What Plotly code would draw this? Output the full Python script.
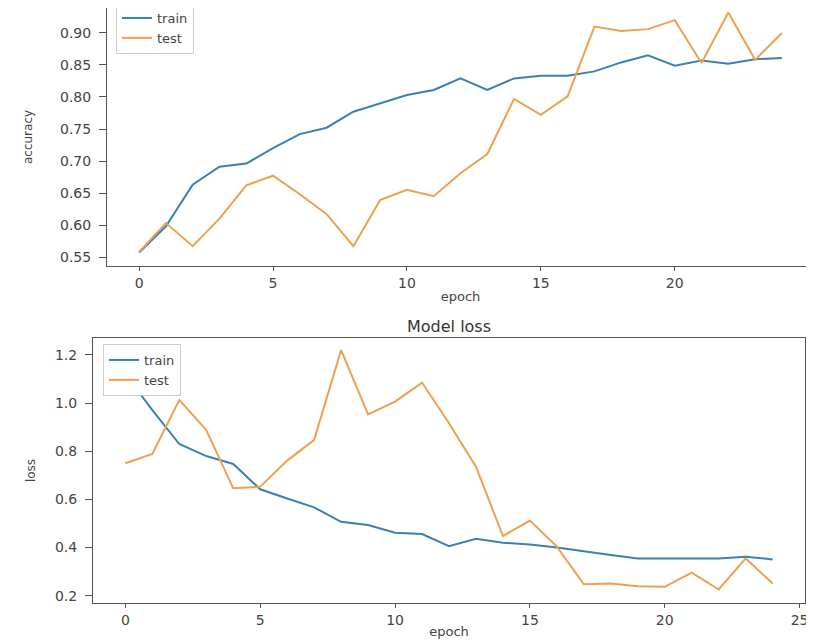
import plotly.graph_objects as go

epochs = list(range(25))

acc_train = [0.557, 0.598, 0.663, 0.691, 0.696, 0.720, 0.742, 0.752, 0.777, 0.790,
             0.803, 0.811, 0.829, 0.811, 0.829, 0.833, 0.833, 0.840, 0.854, 0.865,
             0.849, 0.857, 0.852, 0.859, 0.861]
acc_test = [0.558, 0.603, 0.567, 0.610, 0.662, 0.677, 0.648, 0.617, 0.567, 0.639,
            0.655, 0.645, 0.681, 0.711, 0.797, 0.772, 0.801, 0.910, 0.903, 0.906,
            0.920, 0.853, 0.932, 0.858, 0.900]

loss_train = [1.120, 0.971, 0.830, 0.780, 0.747, 0.642, 0.604, 0.567, 0.507, 0.494,
              0.462, 0.456, 0.406, 0.437, 0.420, 0.413, 0.400, 0.383, 0.369, 0.355,
              0.355, 0.355, 0.355, 0.362, 0.351]
loss_test = [0.750, 0.789, 1.013, 0.888, 0.646, 0.653, 0.761, 0.847, 1.220, 0.953,
             1.006, 1.085, 0.916, 0.736, 0.448, 0.512, 0.404, 0.248, 0.251, 0.240,
             0.237, 0.296, 0.226, 0.355, 0.251]

acc_ticks = [0.55, 0.60, 0.65, 0.70, 0.75, 0.80, 0.85, 0.90]
loss_ticks = [0.2, 0.4, 0.6, 0.8, 1.0, 1.2]
x_ticks = [0, 5, 10, 15, 20, 25]

BLUE = "#3d80ae"
ORANGE = "#eda050"
FONT = "DejaVu Sans"
TXT = "#444444"
LINE = "#555555"

# The page has an 8px body margin, so the figure is 8px smaller than the window.
W, H = 806, 632

fig = go.Figure()
fig.add_trace(go.Scatter(x=epochs, y=acc_train, mode="lines", name="train",
                         line=dict(color=BLUE, width=2), xaxis="x", yaxis="y", legend="legend"))
fig.add_trace(go.Scatter(x=epochs, y=acc_test, mode="lines", name="test",
                         line=dict(color=ORANGE, width=2), xaxis="x", yaxis="y", legend="legend"))
fig.add_trace(go.Scatter(x=epochs, y=loss_train, mode="lines", name="train",
                         line=dict(color=BLUE, width=2), xaxis="x2", yaxis="y2", legend="legend2"))
fig.add_trace(go.Scatter(x=epochs, y=loss_test, mode="lines", name="test",
                         line=dict(color=ORANGE, width=2), xaxis="x2", yaxis="y2", legend="legend2"))

common = dict(showgrid=False, zeroline=False, showline=True,
              linecolor=LINE, linewidth=1, ticks="outside", tickcolor=LINE,
              tickfont=dict(family=FONT, size=14, color=TXT), automargin=False)

legend_common = dict(xanchor="left", yanchor="top", bgcolor="white",
                     bordercolor="#cccccc", borderwidth=1,
                     font=dict(family=FONT, size=13, color=TXT),
                     tracegroupgap=0, entrywidth=90)

fig.update_layout(
    width=W, height=H,
    margin=dict(l=0, r=0, t=0, b=0, autoexpand=False),
    paper_bgcolor="white", plot_bgcolor="white",
    font=dict(family=FONT, color=TXT),
    xaxis=dict(domain=[99/W, 1.0], range=[-1.2, 25.2], tickvals=x_ticks, mirror=False,
               ticklen=4, anchor="y",
               title=dict(text="epoch", font=dict(size=13, family=FONT), standoff=2),
               **common),
    yaxis=dict(domain=[1-258/H, 1.0], range=[0.536, 0.939], tickvals=acc_ticks,
               tickformat=".2f", anchor="x", mirror=True, ticklen=7, ticklabelstandoff=5,
               title=dict(text="accuracy", font=dict(size=12, family=FONT), standoff=24),
               **common),
    xaxis2=dict(domain=[85/W, 797/W], range=[-1.2, 25.2], tickvals=x_ticks, mirror=True,
                ticklen=4, anchor="y2",
                title=dict(text="epoch", font=dict(size=13, family=FONT), standoff=0),
                **common),
    yaxis2=dict(domain=[1-595/H, 1-330/H], range=[0.17, 1.27], tickvals=loss_ticks,
                tickformat=".1f", anchor="x2", mirror=True, ticklen=7, ticklabelstandoff=5,
                title=dict(text="loss", font=dict(size=12, family=FONT), standoff=16),
                **common),
    legend=dict(x=108/W, y=1+6/H, **legend_common),
    legend2=dict(x=95/W, y=1-336/H, **legend_common),
    annotations=[dict(text="Model loss", x=441/W, y=1-318/H, xref="paper", yref="paper",
                      xanchor="center", yanchor="middle", showarrow=False,
                      font=dict(family=FONT, size=16, color="#333333"))],
    showlegend=True,
)

fig.write_html("out.html")
